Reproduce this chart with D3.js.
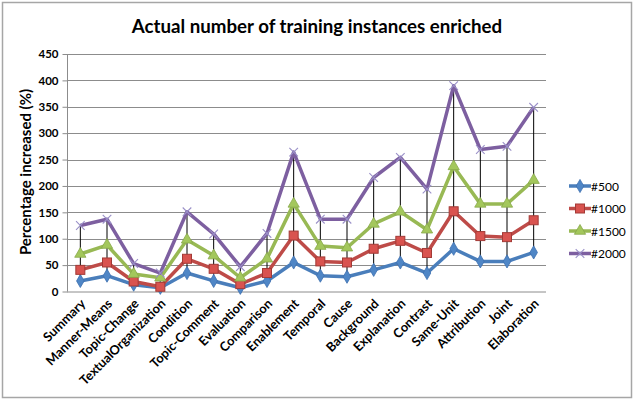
<!DOCTYPE html>
<html><head><meta charset="utf-8">
<script src="https://cdn.jsdelivr.net/npm/d3@7/dist/d3.min.js"></script>
<style>body{margin:0;background:#fff}svg{display:block}</style>
</head><body>
<script>
const categories = ["Summary","Manner-Means","Topic-Change","TextualOrganization","Condition","Topic-Comment","Evaluation","Comparison","Enablement","Temporal","Cause","Background","Explanation","Contrast","Same-Unit","Attribution","Joint","Elaboration"];
const s500  = [20, 30, 13, 7, 35, 20, 7, 20, 55, 30, 28, 41, 55, 35, 81, 57, 57, 74];
const s1000 = [41, 55, 19, 9, 62, 43, 14, 35, 106, 57, 55, 81, 96, 73, 152, 105, 103, 135];
const s1500 = [71, 88, 33, 26, 98, 68, 26, 62, 166, 86, 83, 128, 151, 117, 237, 166, 166, 211];
const s2000 = [125, 137, 53, 35, 151, 109, 47, 110, 264, 137, 137, 216, 254, 194, 390, 269, 275, 349];
const seriesNames = ["#500","#1000","#1500","#2000"];
const yTicks = [0,50,100,150,200,250,300,350,400,450];

const W=635,H=404;
const svg=d3.select("body").append("svg").attr("width",W).attr("height",H);
svg.append("rect").attr("x",2.5).attr("y",2.5).attr("width",629).attr("height",395).attr("fill","#fff").attr("stroke","#a6a6a6").attr("stroke-width",1.5);

const pL=67,pR=547,pT=54,pB=291.5;
const x=d3.scaleBand().domain(categories).range([pL,pR]);
const y=d3.scaleLinear().domain([0,450]).range([pB,pT]);
const cx=c=>x(c)+x.bandwidth()/2;
const FONT="Lato, 'Open Sans', sans-serif";

// gridlines
svg.append("g").selectAll("line").data(yTicks.filter(d=>d>0)).join("line")
 .attr("x1",pL).attr("x2",pR-1).attr("y1",d=>Math.round(y(d))+0.5).attr("y2",d=>Math.round(y(d))+0.5)
 .attr("stroke","#8c8c8c").attr("stroke-width",1);

// y axis
const ya=svg.append("g").attr("transform",`translate(${pL+0.5},0)`).call(d3.axisLeft(y).tickValues(yTicks).tickSize(5).tickPadding(4));
ya.select(".domain").attr("stroke","#8c8c8c").attr("d",`M0,${pT}V${pB}`);
ya.selectAll(".tick line").attr("stroke","#8c8c8c");
ya.selectAll("text").attr("font-family",FONT).attr("font-weight","bold").attr("font-size",11.5).attr("fill","#000");
// x axis line
svg.append("line").attr("x1",pL).attr("x2",pR-1).attr("y1",pB+0.5).attr("y2",pB+0.5).attr("stroke","#8c8c8c");

// x labels
svg.append("g").selectAll("text").data(categories).join("text")
 .attr("transform",c=>`translate(${cx(c)+6},${pB+13}) rotate(-45)`)
 .attr("text-anchor","end").attr("font-family",FONT).attr("font-weight","bold").attr("font-size",12.8)
 .text(c=>c);

const all=[s500,s1000,s1500,s2000];
// high-low lines
svg.append("g").selectAll("line").data(categories).join("line")
 .attr("x1",c=>cx(c)).attr("x2",c=>cx(c))
 .attr("y1",(c,i)=>y(d3.max(all,s=>s[i]))).attr("y2",(c,i)=>y(d3.min(all,s=>s[i])))
 .attr("stroke","#000").attr("stroke-width",1);

const colors=["#4a7ebb","#be4b48","#98b954","#7d5fa0"];
const line=d3.line().x((d,i)=>cx(categories[i])).y(d=>y(d));

function marker(g,k,px,py){
  if(k===0){g.append("path").attr("d",d3.symbol(d3.symbolDiamond,50)()).attr("transform",`translate(${px},${py})`).attr("fill","#4f86c6").attr("stroke","#3d70b0").attr("stroke-width",0.8);}
  else if(k===1){g.append("rect").attr("x",px-4.5).attr("y",py-4.5).attr("width",9).attr("height",9).attr("fill","#d9534f").attr("stroke","#a33a36").attr("stroke-width",1);}
  else if(k===2){g.append("path").attr("d",d3.symbol(d3.symbolTriangle,55)()).attr("transform",`translate(${px},${py})`).attr("fill","#a3c75c").attr("stroke","#88a84a").attr("stroke-width",0.8);}
  else {g.append("path").attr("d",d3.symbol(d3.symbolX,50)()).attr("transform",`translate(${px},${py})`).attr("fill","none").attr("stroke","#9a90c8").attr("stroke-width",1.1);}
}

all.forEach((s,k)=>{
  svg.append("path").datum(s).attr("d",line).attr("fill","none").attr("stroke",colors[k]).attr("stroke-width",3.5).attr("stroke-linejoin","round");
  const g=svg.append("g");
  s.forEach((v,i)=>marker(g,k,cx(categories[i]),y(v)));
});

// legend
const leg=svg.append("g");
seriesNames.forEach((n,k)=>{
  const ly=186+k*22.5;
  leg.append("line").attr("x1",569).attr("x2",591).attr("y1",ly).attr("y2",ly).attr("stroke",colors[k]).attr("stroke-width",3.5);
  marker(leg,k,580,ly);
  leg.append("text").attr("x",591).attr("y",ly+4.5).attr("font-family",FONT).attr("font-size",12).text(n);
});

// title
svg.append("text").attr("x",317).attr("y",33).attr("text-anchor","middle").attr("font-family",FONT).attr("font-weight","bold").attr("font-size",18.7).text("Actual number of training instances enriched");
// y title
svg.append("text").attr("transform","translate(31,172) rotate(-90)").attr("text-anchor","middle").attr("font-family",FONT).attr("font-weight","bold").attr("font-size",15).text("Percentage increased (%)");
</script>
</body></html>
